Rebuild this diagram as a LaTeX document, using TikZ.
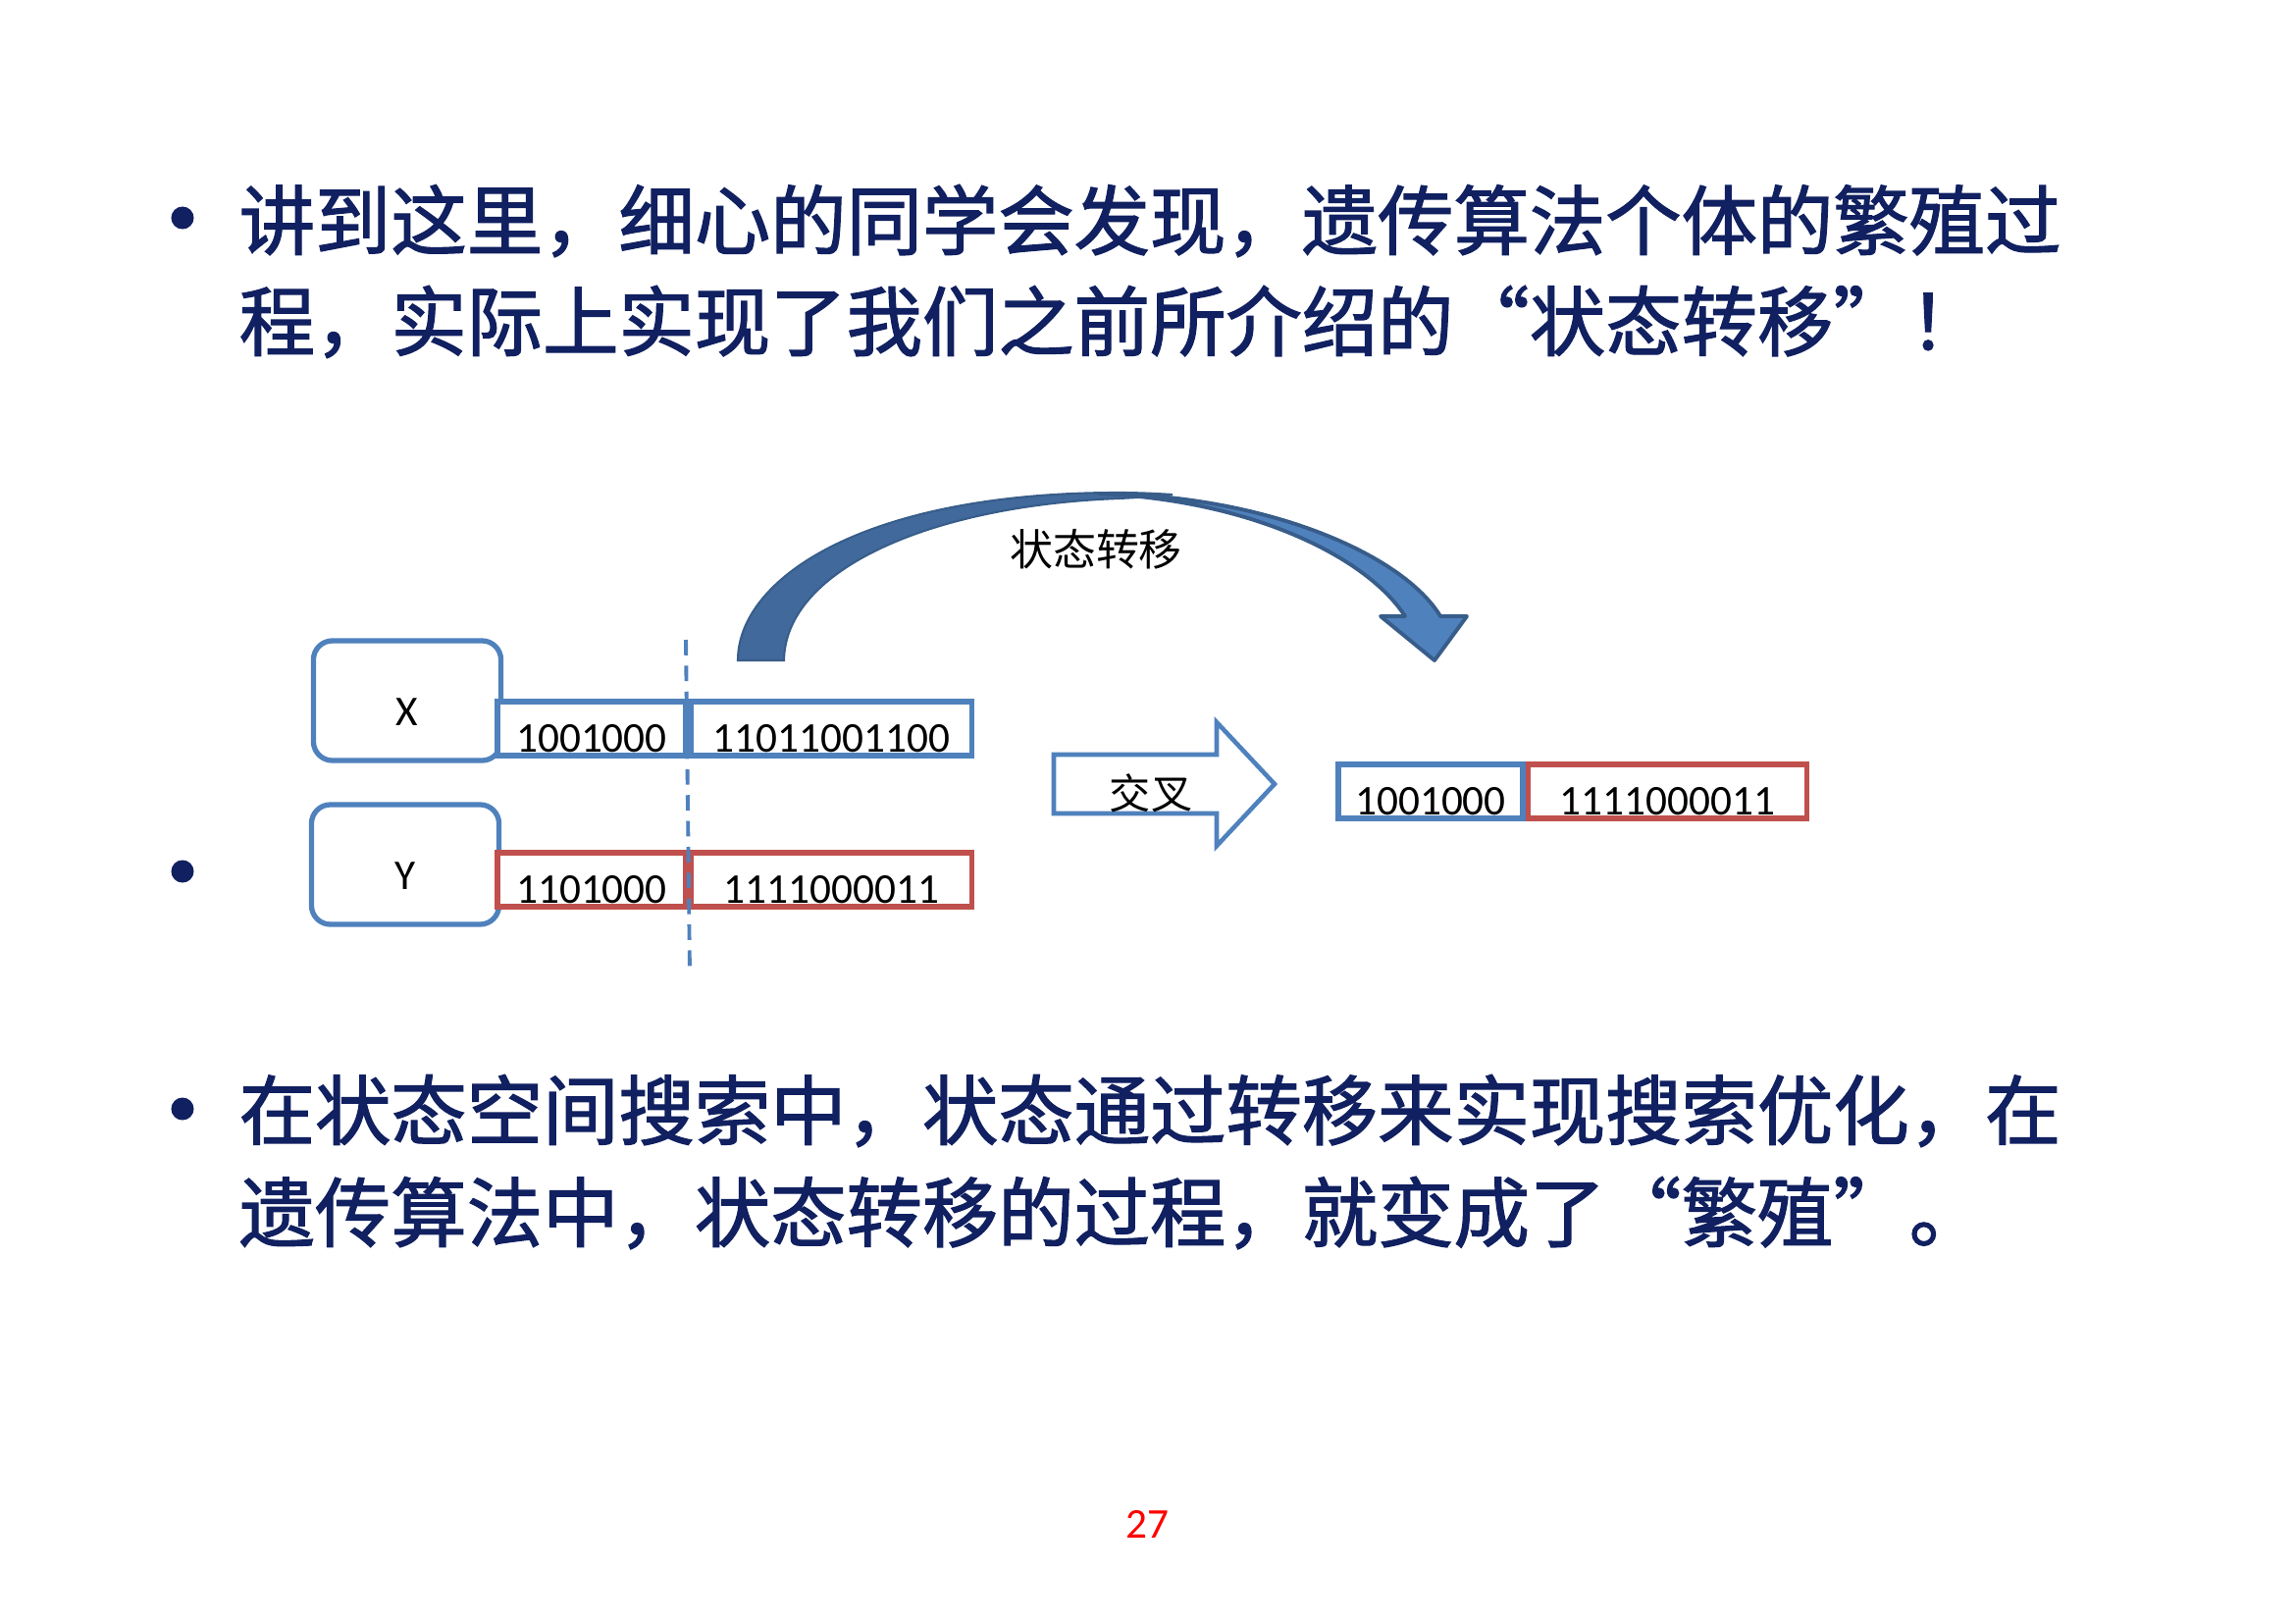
\documentclass[tikz,border=0pt]{standalone}
\usepackage{fontspec}
\setmainfont{Carlito}
\newfontfamily\cjk[RawFeature=+fwid]{Noto Sans CJK SC}
\newfontfamily\cjkheavy[RawFeature=+fwid, FakeBold=1.6]{Noto Sans CJK SC}
\usepackage{xcolor}
\definecolor{slidenavy}{HTML}{102060}
\definecolor{cellblue}{HTML}{4F81BD}
\definecolor{cellred}{HTML}{C0504D}
\definecolor{bendback}{HTML}{41699B}
\definecolor{bendline}{HTML}{385D8A}
\usetikzlibrary{positioning}

\tikzset{
  linetext/.style={anchor=west, inner sep=0pt, text=slidenavy,
                   font=\cjkheavy\fontsize{22pt}{26pt}\selectfont},
  dot/.style={circle, fill=slidenavy, inner sep=0pt, minimum size=0.23cm},
  namebox/.style={draw=cellblue, line width=1.5pt, rounded corners=5.5pt,
                  minimum width=1.91cm, minimum height=1.22cm, inner sep=0pt,
                  text height=0.5cm, text depth=0cm,
                  font=\fontsize{12.3pt}{14pt}\selectfont},
  bitcell/.style={line width=1.5pt, fill=white, inner sep=0pt,
                  minimum height=0.55cm, text height=0.51cm, text depth=0.04cm,
                  font=\fontsize{12.3pt}{14pt}\selectfont}
}

\begin{document}
\begin{tikzpicture}[x=0.01cm, y=-0.01cm]
  \useasboundingbox[fill=white] (0,0) rectangle (2339,1654);

  % top text
  \node[dot] (b1) at (186,222) {};
  \node[linetext] (t1) at (243,225) {讲到这里，细心的同学会发现，遗传算法个体的繁殖过};
  \node[linetext] (t2) at (243,328) {程，实际上实现了我们之前所介绍的“状态转移”！};

  % the two parents
  \node[dot] (b2) at (186,888) {};
  \node[namebox] (xname) at (415,714) {X};
  \node[namebox] (yname) at (413,881) {Y};

  \node[bitcell, draw=cellblue, minimum width=1.92cm] (xhead) at (603,742.5) {1001000};
  \node[bitcell, draw=cellblue, minimum width=2.86cm, right=0pt of xhead] (xtail) {11011001100};
  \node[bitcell, draw=cellred, minimum width=1.92cm] (yhead) at (603,896.5) {1101000};
  \node[bitcell, draw=cellred, minimum width=2.86cm, right=0pt of yhead] (ytail) {1111000011};

  % cut point
  \coordinate (cuttop) at (699,652);
  \coordinate (cutbot) at (703,993);
  \draw[cellblue, line width=1.1pt, dash pattern=on 4.5pt off 3pt] (cuttop) -- (cutbot);

  % crossover arrow
  \draw[cellblue, fill=white, line width=1.3pt]
    (1074,769) -- (1240,769) -- (1240,736) -- (1299,799) -- (1240,862)
    -- (1240,829) -- (1074,829) -- cycle;
  \node[font=\cjk\fontsize{12pt}{14pt}\selectfont, inner sep=0pt] (cross) at (1173,808) {交叉};

  % child
  \node[bitcell, draw=cellblue, minimum width=1.88cm] (chead) at (1458,806.5) {1001000};
  \node[bitcell, draw=cellred, minimum width=2.84cm, right=0pt of chead] (ctail) {1111000011};

  % big bent arrow
  \filldraw[fill=bendback, draw=bendline, line width=0.6pt]
    (752,673) .. controls (752,590) and (880,502) .. (1140,502)
    .. controls (1160,502) and (1180,503) .. (1195,504)
    .. controls (1175,506) and (1160,507) .. (1140,508)
    .. controls (950,515) and (800,580) .. (799,673) -- cycle;
  \filldraw[fill=cellblue, draw=bendline, line width=1.1pt, line join=round]
    (1120,503) .. controls (1290,504) and (1430,565) .. (1468,628)
    -- (1495,628) -- (1462,673) -- (1407,628) -- (1432,628)
    .. controls (1395,570) and (1280,510) .. (1120,503) -- cycle;
  \node[font=\cjk\fontsize{12.5pt}{14pt}\selectfont, inner sep=0pt] (move) at (1117,560) {状态转移};

  % bottom text
  \node[dot] (b3) at (186,1130) {};
  \node[linetext] (t3) at (243,1132) {在状态空间搜索中，状态通过转移来实现搜索优化，在};
  \node[linetext] (t4) at (243,1236) {遗传算法中，状态转移的过程，就变成了“繁殖”。};

  % page number
  \node[text=red, font=\fontsize{12.3pt}{14pt}\selectfont, inner sep=0pt] (page) at (1169,1553) {27};
\end{tikzpicture}
\end{document}
